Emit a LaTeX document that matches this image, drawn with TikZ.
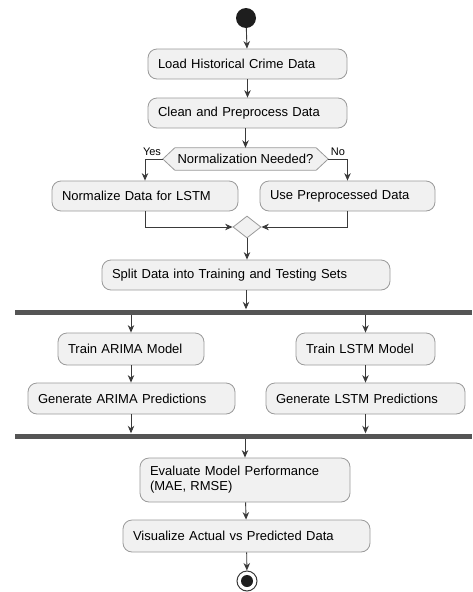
\documentclass[tikz,border=0pt]{standalone}
\usepackage{fontspec}
\setmainfont{Liberation Sans}
\usetikzlibrary{shapes.geometric,arrows.meta,calc}
\definecolor{boxfill}{HTML}{F1F1F1}
\definecolor{boxline}{HTML}{9A9A9A}
\definecolor{linec}{HTML}{3A3A3A}
\definecolor{barc}{HTML}{555555}
\definecolor{dotc}{HTML}{1E1E1E}
\begin{document}
\begin{tikzpicture}[x=1pt,y=-1pt,
 act/.style={draw=boxline, fill=boxfill, rounded corners=9pt, line width=0.8pt, minimum height=30pt, inner xsep=10pt, inner ysep=0pt, align=left, font=\fontsize{13}{15}\selectfont},
 flow/.style={draw=linec, line width=0.9pt, -{Stealth[length=7.5pt,width=6.5pt]}},
 bar/.style={fill=barc, draw=none, minimum height=5pt, inner sep=0pt},
 lbl/.style={font=\fontsize{11}{12}\selectfont, inner sep=1pt},
 hexs/.style={draw=boxline, fill=boxfill, line width=0.8pt}]
\useasboundingbox (0,0) rectangle (472,592);

\node[circle, fill=dotc, minimum size=20pt, inner sep=0pt] (start) at (246,18) {};
\node[act, text width=179pt] (load) at (247.5,64) {Load Historical Crime Data};
\node[act, text width=179pt] (clean) at (247.5,113) {Clean and Preprocess Data};

\node[minimum width=165pt, minimum height=22pt, inner sep=0pt] (dec) at (245.5,159) {};
\draw[hexs] (dec.west) -- ([xshift=12pt]dec.north west) -- ([xshift=-12pt]dec.north east) -- (dec.east) -- ([xshift=-12pt]dec.south east) -- ([xshift=12pt]dec.south west) -- cycle;
\node[font=\fontsize{13}{15}\selectfont, inner sep=0pt] (dectext) at (dec.center) {Normalization Needed?};

\node[act, text width=166pt] (norm) at (145,196) {Normalize Data for LSTM};
\node[act, text width=155pt] (usep) at (347.5,196) {Use Preprocessed Data};
\node[diamond, draw=boxline, fill=boxfill, line width=0.8pt, minimum width=28pt, minimum height=22pt, inner sep=0pt] (merge) at (247,227) {};
\node[act, text width=268pt] (split) at (246,275) {Split Data into Training and Testing Sets};
\node[bar, minimum width=457pt] (fork1) at (243.5,312) {};
\node[act, text width=126pt, minimum height=32pt] (tarima) at (131,349) {Train ARIMA Model};
\node[act, text width=119pt, minimum height=32pt] (tlstm) at (365.5,349) {Train LSTM Model};
\node[act, text width=187pt, minimum height=31pt] (garima) at (131.5,398.5) {Generate ARIMA Predictions};
\node[act, text width=179pt, minimum height=31pt] (glstm) at (365.5,398.5) {Generate LSTM Predictions};
\node[bar, minimum width=457pt] (join) at (243.5,436) {};
\node[act, text width=190pt, minimum height=44pt] (eval) at (245,480) {Evaluate Model Performance\\(MAE, RMSE)};
\node[act, text width=227pt, minimum height=32pt] (vis) at (246.5,536) {Visualize Actual vs Predicted Data};
\node[circle, draw=linec, fill=white, line width=1pt, minimum size=20pt, inner sep=0pt] (end) at (247,581) {};
\node[circle, fill=dotc, minimum size=12pt, inner sep=0pt] (endin) at (end.center) {};

\draw[flow] (start) -- (load);
\draw[flow] (load) -- (clean);
\draw[flow] (clean.south -| dec.north) -- (dec.north);
\draw[flow] (dec.west) -| (norm.north);
\draw[flow] (dec.east) -| (usep.north);
\node[lbl] (yes) at (152,152) {Yes};
\node[lbl] (no) at (338,152) {No};
\draw[flow] (norm.south) |- (merge.west);
\draw[flow] (usep.south) |- (merge.east);
\draw[flow] (merge.south) -- (merge.south |- split.north);
\draw[flow] (split.south) -- (split.south |- fork1.north);
\draw[flow] (fork1.south -| tarima.north) -- (tarima.north);
\draw[flow] (fork1.south -| tlstm.north) -- (tlstm.north);
\draw[flow] (tarima) -- (garima.north -| tarima.south);
\draw[flow] (tlstm) -- (glstm.north -| tlstm.south);
\draw[flow] (garima.south -| tarima.south) -- (tarima.south |- join.north);
\draw[flow] (glstm.south -| tlstm.south) -- (tlstm.south |- join.north);
\draw[flow] (join.south -| eval.north) -- (eval.north);
\draw[flow] (eval) -- (vis);
\draw[flow] (vis) -- (end);
\end{tikzpicture}
\end{document}
